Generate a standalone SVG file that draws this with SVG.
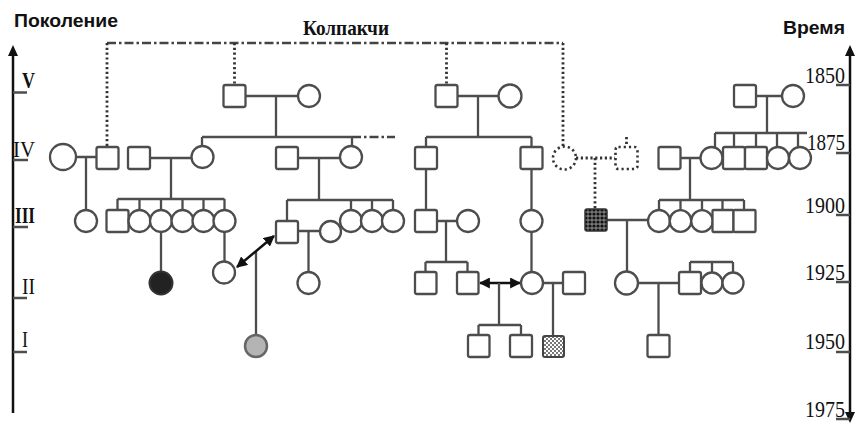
<svg xmlns="http://www.w3.org/2000/svg" width="856" height="424" viewBox="0 0 856 424">
<defs>
<style>
.n{fill:#fff;stroke:#4d4d4d;stroke-width:2.3}
.l{fill:none;stroke:#4d4d4d;stroke-width:2.3}
.dot{fill:none;stroke:#333;stroke-width:2.8;stroke-dasharray:2.2 2.6}
.dn{fill:#fff;stroke:#333;stroke-width:2.6;stroke-dasharray:2.2 3}
.dd{fill:none;stroke:#444;stroke-width:2.3;stroke-dasharray:9 3 2.5 3}
.ax{fill:none;stroke:#111;stroke-width:2.5}
.arr{fill:none;stroke:#111;stroke-width:2.5}
.ser{font-family:"Liberation Serif","Times New Roman",serif;fill:#111}
.sans{font-family:"Liberation Sans",Arial,sans-serif;font-weight:bold;fill:#111}
</style>
<marker id="ah" viewBox="0 0 10 10" refX="9" refY="5" markerWidth="4.4" markerHeight="4.4" orient="auto-start-reverse">
<path d="M0,0 L10,5 L0,10 z" fill="#111"/>
</marker>
<pattern id="chkDark" width="4" height="4" patternUnits="userSpaceOnUse">
<rect width="4" height="4" fill="#777"/>
<circle cx="2" cy="2" r="1.6" fill="#111"/>
</pattern>
<pattern id="chkLight" width="4" height="4" patternUnits="userSpaceOnUse">
<rect width="4" height="4" fill="#fff"/>
<rect width="2" height="2" fill="#777"/>
<rect x="2" y="2" width="2" height="2" fill="#777"/>
</pattern>
</defs>
<rect width="856" height="424" fill="#fff"/>

<g id="axes">
<path class="ax" d="M13,52 V413"/>
<polygon points="13,45 8,56 18,56" fill="#111"/>
<path class="ax" d="M850,52 V415"/>
<polygon points="850,45 845,56 855,56" fill="#111"/>
<polygon points="850,423 845,412 855,412" fill="#111"/>
<path class="l" stroke="#222" d="M13,92.5 H27 M13,160 H28 M13,227 H28 M13,298 H27 M13,352 H27"/>
<path class="l" stroke="#222" d="M836,85 H850 M836,153 H850 M836,215 H850 M836,282 H850 M836,352 H850 M836,419 H850"/>
</g>

<g id="labels">
<text class="sans" x="14" y="27" font-size="19" textLength="104" lengthAdjust="spacingAndGlyphs">Поколение</text>
<text class="sans" x="783" y="34" font-size="18" textLength="62" lengthAdjust="spacingAndGlyphs">Время</text>
<text class="ser" x="303" y="35" font-size="22" font-weight="bold" textLength="86" lengthAdjust="spacingAndGlyphs">Колпакчи</text>
<text class="ser" x="22" y="88" font-size="23" font-weight="bold" textLength="13" lengthAdjust="spacingAndGlyphs">V</text>
<text class="ser" x="13" y="157" font-size="23" textLength="22" lengthAdjust="spacingAndGlyphs">IV</text>
<text class="ser" x="15" y="223" font-size="23" font-weight="bold" textLength="20" lengthAdjust="spacingAndGlyphs">III</text>
<text class="ser" x="22" y="294" font-size="23" textLength="13" lengthAdjust="spacingAndGlyphs">II</text>
<text class="ser" x="22" y="347" font-size="23" textLength="6" lengthAdjust="spacingAndGlyphs">I</text>
<text class="ser" x="805" y="83" font-size="23" textLength="40" lengthAdjust="spacingAndGlyphs">1850</text>
<text class="ser" x="807" y="150" font-size="23" textLength="38" lengthAdjust="spacingAndGlyphs">1875</text>
<text class="ser" x="805" y="213" font-size="23" textLength="40" lengthAdjust="spacingAndGlyphs">1900</text>
<text class="ser" x="805" y="280" font-size="23" textLength="40" lengthAdjust="spacingAndGlyphs">1925</text>
<text class="ser" x="805" y="349" font-size="23" textLength="40" lengthAdjust="spacingAndGlyphs">1950</text>
<text class="ser" x="805" y="417" font-size="23" textLength="40" lengthAdjust="spacingAndGlyphs">1975</text>
</g>

<g id="connectors">
<path class="dd" d="M107,43 H563 M352,137 H395"/>
<path class="dot" d="M107,43 V147 M234.5,43 V85 M446.5,43 V85 M563,43 V146 M576,158 H615 M595,158 V209 M626.5,137 V146"/>
<path class="l" d="M245.5,96 H298 M276,96 V137 M202,137 H352 M202,137 V146 M352,137 V146"/>
<path class="l" d="M457.5,96 H499 M478,96 V137 M426,137 H531.5 M426,137 V147 M531.5,137 V147"/>
<path class="l" stroke="#333" d="M756,96 H782 M767,96 V133 M715,133 H807 M715,133 V148 M734,133 V147 M756,133 V147 M777,133 V148 M798,133 V148"/>
<path class="l" d="M76,157 H96.5 M86,157 V210 M150,158 H191.5 M171,158 V199 M117.5,199 H224.5 M117.5,199 V210 M139.5,199 V210 M161,199 V210 M182.5,199 V210 M203.5,199 V210 M224.5,199 V210"/>
<path class="l" d="M298,158 H340 M319,158 V200 M287,200 H393 M287,200 V221 M351,200 V210 M372,200 V210 M393,200 V210"/>
<path class="l" d="M426,169 V210 M531.5,169 V210"/>
<path class="l" d="M681,158 H700.5 M690,158 V200 M659,200 H744 M659,200 V210 M680.5,200 V210 M702,200 V210 M722.5,200 V210 M744,200 V210"/>
<path class="l" d="M161,232 V271.5 M224.5,232 V261.5 M256,251.5 V335 M298,231 H320 M308.5,231 V272"/>
<path class="arr" d="M237,267 L274,236" marker-start="url(#ah)" marker-end="url(#ah)"/>
<path class="l" d="M437,221 H457 M446,221 V262 M425.5,262 H467.5 M425.5,262 V272 M467.5,262 V272 M531.5,232 V272"/>
<path class="arr" d="M480,283 H520" marker-start="url(#ah)" marker-end="url(#ah)"/>
<path class="l" d="M499,283 V325 M478.5,325 H521 M478.5,325 V335 M521,325 V335 M543,283 H563 M553,283 V336"/>
<path class="l" d="M607,220 H648 M627,220 V271.5 M638,283 H679 M658.5,283 V335 M690,262 H733 M690,262 V272 M712,262 V272 M733,262 V272"/>
</g>

<g id="gen5">
<g id="v1"><rect class="n" x="223.5" y="85" width="22" height="22" rx="2"/></g>
<g id="v2"><circle class="n" cx="309" cy="96" r="11"/></g>
<g id="v3"><rect class="n" x="435.5" y="85" width="22" height="22" rx="2"/></g>
<g id="v4"><circle class="n" cx="510" cy="96" r="11.5"/></g>
<g id="v5"><rect class="n" stroke="#1a1a1a" stroke-width="2.6" x="734" y="85" width="22" height="22" rx="2"/></g>
<g id="v6"><circle class="n" stroke="#1a1a1a" stroke-width="2.6" cx="793" cy="96" r="11"/></g>
</g>

<g id="gen4">
<g id="iv1"><circle class="n" cx="63" cy="157" r="13"/></g>
<g id="iv2"><rect class="n" x="96.5" y="147" width="22" height="22" rx="2"/></g>
<g id="iv3"><rect class="n" x="128" y="147" width="22" height="22" rx="2"/></g>
<g id="iv4"><circle class="n" cx="202.5" cy="157" r="11"/></g>
<g id="iv5"><rect class="n" x="276" y="147" width="22" height="22" rx="2"/></g>
<g id="iv6"><circle class="n" cx="351" cy="157" r="11"/></g>
<g id="iv7"><rect class="n" x="415" y="147" width="22" height="22" rx="2"/></g>
<g id="iv8"><rect class="n" x="520.5" y="147" width="22" height="22" rx="2"/></g>
<g id="iv9"><circle class="dn" cx="564.5" cy="158" r="11.5"/></g>
<g id="iv10"><rect class="dn" x="615.5" y="147" width="22" height="22" rx="3"/></g>
<g id="iv11"><rect class="n" x="658.5" y="147" width="22" height="22" rx="2"/></g>
<g id="iv12"><circle class="n" cx="711.5" cy="158" r="11"/></g>
<g id="iv13"><rect class="n" x="723" y="147" width="22" height="22" rx="2"/></g>
<g id="iv14"><rect class="n" x="745" y="147" width="22" height="22" rx="2"/></g>
<g id="iv15"><circle class="n" cx="778" cy="158" r="11"/></g>
<g id="iv16"><circle class="n" cx="800" cy="158" r="11"/></g>
</g>

<g id="gen3">
<g id="iii1"><circle class="n" cx="86" cy="221" r="11"/></g>
<g id="iii2"><rect class="n" x="106.5" y="210" width="22" height="22" rx="2"/></g>
<g id="iii3"><circle class="n" cx="139.5" cy="221" r="11"/></g>
<g id="iii4"><circle class="n" cx="161" cy="221" r="11"/></g>
<g id="iii5"><circle class="n" cx="182.5" cy="221" r="11"/></g>
<g id="iii6"><circle class="n" cx="203.5" cy="221" r="11"/></g>
<g id="iii7"><circle class="n" cx="224.5" cy="221" r="11"/></g>
<g id="iii8"><rect class="n" x="276" y="221" width="22" height="22" rx="2"/></g>
<g id="iii9"><circle class="n" cx="330.5" cy="231.5" r="10.5"/></g>
<g id="iii10"><circle class="n" cx="351" cy="221" r="11"/></g>
<g id="iii11"><circle class="n" cx="372" cy="221" r="11"/></g>
<g id="iii12"><circle class="n" cx="393" cy="221" r="11"/></g>
<g id="iii13"><rect class="n" x="415" y="210" width="22" height="22" rx="2"/></g>
<g id="iii14"><circle class="n" cx="468" cy="221" r="11"/></g>
<g id="iii15"><circle class="n" cx="531.5" cy="221" r="11"/></g>
<g id="iii16"><rect x="585" y="209" width="22" height="22" rx="2" fill="url(#chkDark)" stroke="#333" stroke-width="1.5"/></g>
<g id="iii17"><circle class="n" cx="659" cy="221" r="11"/></g>
<g id="iii18"><circle class="n" cx="680.5" cy="221" r="10.8"/></g>
<g id="iii19"><circle class="n" cx="702" cy="221" r="10.8"/></g>
<g id="iii20"><rect class="n" x="712.5" y="210" width="21" height="22" rx="1"/></g>
<g id="iii21"><rect class="n" x="733.5" y="210" width="22" height="22" rx="1"/></g>
</g>

<g id="gen2">
<g id="ii1"><circle cx="161" cy="283" r="11.5" fill="#222" stroke="#333" stroke-width="2"/></g>
<g id="ii2"><circle class="n" cx="224" cy="272.5" r="11"/></g>
<g id="ii3"><circle class="n" cx="308.5" cy="283" r="11"/></g>
<g id="ii4"><rect class="n" x="415" y="272" width="21.5" height="22" rx="2"/></g>
<g id="ii5"><rect class="n" x="457" y="272" width="21.5" height="22" rx="2"/></g>
<g id="ii6"><circle class="n" cx="532" cy="283" r="11"/></g>
<g id="ii7"><rect class="n" x="563" y="272" width="22" height="22" rx="2"/></g>
<g id="ii8"><circle class="n" cx="626.5" cy="283" r="11.5"/></g>
<g id="ii9"><rect class="n" x="679" y="272" width="22" height="22" rx="2"/></g>
<g id="ii10"><circle class="n" cx="712" cy="283" r="10.5"/></g>
<g id="ii11"><circle class="n" cx="733" cy="283" r="10.5"/></g>
</g>

<g id="gen1">
<g id="i1"><circle cx="256" cy="346" r="11" fill="#b4b4b4" stroke="#666" stroke-width="2.5"/></g>
<g id="i2"><rect class="n" x="468" y="335" width="21.5" height="22" rx="2"/></g>
<g id="i3"><rect class="n" x="510" y="335" width="22" height="22" rx="2"/></g>
<g id="i4"><rect x="543" y="336" width="21" height="21" rx="2" fill="url(#chkLight)" stroke="#444" stroke-width="2"/></g>
<g id="i5"><rect class="n" x="647.5" y="335" width="22" height="22" rx="2"/></g>
</g>
</svg>
